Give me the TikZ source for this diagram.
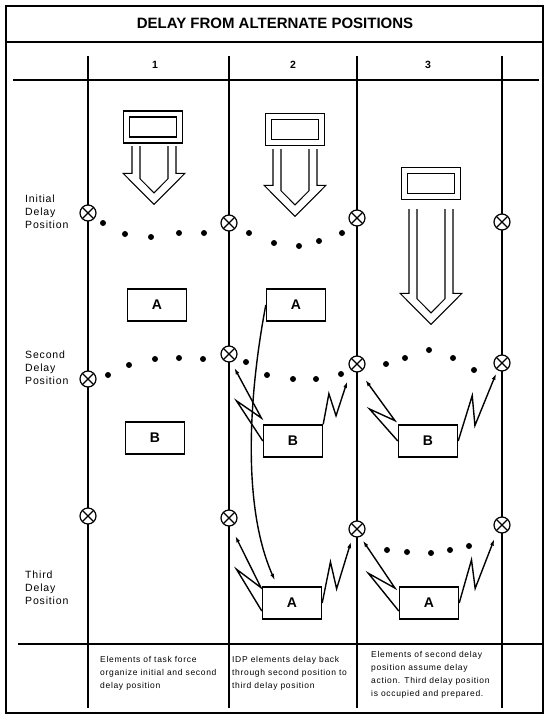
\documentclass[tikz,border=0pt]{standalone}
\usepackage{fontspec}
\setmainfont{Liberation Sans}
\newfontfamily\lblfont[LetterSpace=8]{Liberation Sans}
\usetikzlibrary{calc,arrows.meta}

\tikzset{
  boardline/.style={line width=2.3pt},
  unitbox/.style={draw, line width=1.4pt, minimum width=59pt, minimum height=32pt, inner sep=0pt,
    font=\fontsize{14}{14}\selectfont\bfseries},
  unitframe/.style={draw, line width=1.2pt, double, double distance=4.8pt, minimum width=53pt, minimum height=26pt, inner sep=0pt},
  hollow/.style={draw, line width=1.2pt, double, double distance=6.8pt, line join=miter},
  posmark/.style={circle, draw, line width=1.2pt, fill=white, minimum size=16pt, inner sep=0pt,
    path picture={\draw[line width=1.2pt] (path picture bounding box.north west) -- (path picture bounding box.south east)
      (path picture bounding box.north east) -- (path picture bounding box.south west);}},
  bolt/.style={line width=1.4pt, -{Latex[length=6.5pt,width=4pt]}},
  lbl/.style={anchor=west, align=left, inner sep=0pt, font=\lblfont\fontsize{10.5}{13}\selectfont},
  note/.style={anchor=north west, align=left, inner sep=0pt, font=\lblfont\fontsize{8.5}{13}\selectfont},
}

\begin{document}
\begin{tikzpicture}[x=1pt, y=-1pt]
% hollow arrow below a unit: x, top of shaft, tip
\newcommand{\hollowarrow}[3]{%
  \draw[hollow] (#1-18,#2) -- (#1-18,#3-27.5) -- (#1-21,#3-27.5) -- (#1,#3-6.4)
    -- (#1+21,#3-27.5) -- (#1+18,#3-27.5) -- (#1+18,#2);}
% zigzag arrow: start, marker, gap before marker
\newcommand{\bolt}[3]{%
  \coordinate (tip) at ($(#2)!#3!(#1)$);
  \draw[bolt] (#1) -- ($(#1)!0.6!(tip)!10pt!90:(tip)$) -- ($(#1)!0.28!(tip)!7pt!-90:(tip)$) -- (tip);}

\useasboundingbox (0,0) rectangle (550,720);

% Frame and title
\draw[boardline] (6,6) rectangle (543,713);
\draw[boardline] (6,42) -- (543,42);
\node[font=\fontsize{15}{15}\selectfont\bfseries] (title) at (275,23) {DELAY FROM ALTERNATE  POSITIONS};

% Grid
\foreach \x in {88,229,357,502}
  \draw[boardline] (\x,56) -- (\x,708);
\draw[boardline] (13,80) -- (539,80);
\draw[boardline] (18,644) -- (543,644);
\foreach \x/\n in {155/1,293/2,428/3}
  \node[font=\fontsize{10.5}{10.5}\selectfont\bfseries] (col\n) at (\x,65) {\n};

% Row labels
\node[lbl] (initial) at (25,212) {Initial\\Delay\\Position};
\node[lbl] (second) at (25,368) {Second\\Delay\\Position};
\node[lbl] (third) at (25,588) {Third\\Delay\\Position};

% Dotted lines of units
\foreach \x/\y in {103/223,125/234,151/237,179/233,204/233,
                   249/233,274/243,299/246,319/241,342/233,
                   108/375,129/365,155/359,179/358,203/359,
                   246/362,267/375,293/379,316/379,341/374,
                   386/364,405/358,429/350,453/358,474/370,
                   387/550,407/552,431/553,450/550,469/546}
  \fill (\x,\y) circle (3pt);

% Position markers
\foreach \name/\x/\y in {i0/88/213, i1/229/223, i2/357/218, i3/502/222,
                         s0/88/379, s1/229/354, s2/357/364, s3/502/363,
                         t0/88/516, t1/229/518, t2/357/529, t3/502/525}
  \node[posmark] (\name) at (\x,\y) {};

% Units moving in
\node[unitframe] (unit1) at (153,127) {};
\hollowarrow{154}{146}{205}
\node[unitframe] (unit2) at (295,129.5) {};
\hollowarrow{295}{149}{217}
\node[unitframe] (unit3) at (431,183.5) {};
\hollowarrow{431}{209}{325}

% Delay units
\node[unitbox] (A1) at (157,305) {A};
\node[unitbox] (B1) at (155,438) {B};
\node[unitbox] (A2) at (296,305) {A};
\node[unitbox] (B2) at (293,441) {B};
\node[unitbox] (B3) at (428,441) {B};
\node[unitbox] (A2b) at (292,603) {A};
\node[unitbox] (A3b) at (429,603) {A};

% Delay back
\coordinate (retreat) at ($(A2b.north west)+(13,-6)$);
\draw[bolt] (A2.west) .. controls +(-18,95) and +(-32,-72) .. (retreat);

% Fire
\bolt{B2.west}{s1}{15pt}
\bolt{B2.north east}{s2}{20pt}
\bolt{B3.west}{s2}{18pt}
\bolt{B3.east}{s3}{12pt}
\bolt{[yshift=-8pt]A2b.west}{t1}{19pt}
\bolt{A2b.east}{t2}{14pt}
\bolt{[yshift=-8pt]A3b.west}{t2}{13pt}
\bolt{A3b.east}{t3}{16pt}

% Notes
\node[note] (note1) at (100,656) {Elements of task force\\organize initial and second\\delay position};
\node[note] (note2) at (232,656) {IDP elements delay back\\through second position to\\third delay position};
\node[note] (note3) at (371,651) {Elements of second delay\\position assume delay\\action. Third delay position\\is occupied and prepared.};
\end{tikzpicture}
\end{document}
